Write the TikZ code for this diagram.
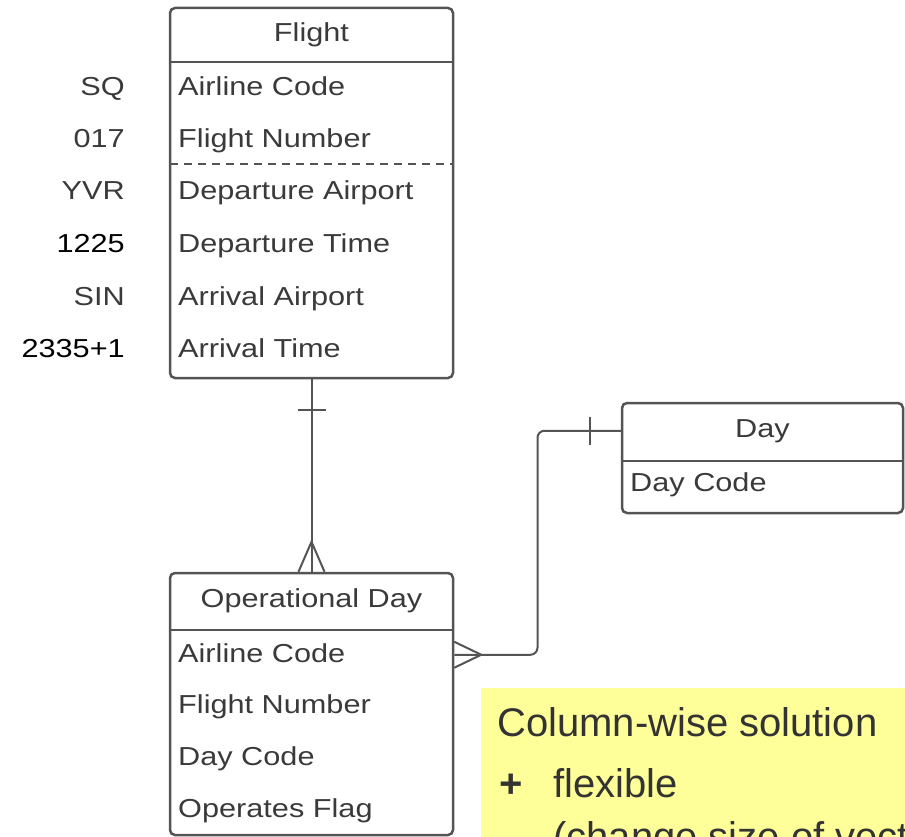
\documentclass[tikz,border=0pt]{standalone}
\usepackage{fontspec}
\setmainfont{Liberation Sans}
\newfontfamily\erfont[FakeStretch=1.18]{Liberation Sans}
\usetikzlibrary{calc}

\definecolor{boxgray}{HTML}{545454}
\definecolor{textgray}{HTML}{3A3A3A}
\definecolor{notegray}{HTML}{333333}
\definecolor{noteyellow}{HTML}{FFFF99}

\tikzset{
  entity/.style={draw=boxgray, line width=2.5pt, rounded corners=5pt, inner sep=0pt},
  sepline/.style={draw=boxgray, line width=2.5pt},
  keyline/.style={draw=boxgray, line width=1.3pt, dash pattern=on 8pt off 6pt},
  enttitle/.style={font=\erfont\fontsize{26}{30}\selectfont, text=textgray, inner sep=0pt, anchor=base},
  attr/.style={font=\erfont\fontsize{26}{30}\selectfont, text=textgray, inner sep=0pt, anchor=base west},
  sample/.style={font=\erfont\fontsize{26}{30}\selectfont, text=textgray, inner sep=0pt, anchor=base east},
  rel/.style={draw=boxgray, line width=2pt},
  notetext/.style={font=\fontsize{40}{48}\selectfont, text=notegray, inner sep=0pt, anchor=base west},
}

\begin{document}
\begin{tikzpicture}[x=1pt, y=-1pt]
  \clip (0,0) rectangle (905,837);

  % note in the corner
  \fill[noteyellow] (481,688) rectangle (910,840);
  \node[notetext] (notehead) at (497,736) {Column-wise solution};
  \node[notetext, font=\bfseries\fontsize{40}{48}\selectfont] (noteplus) at (499,797) {+};
  \node[notetext] (noteflex) at (553,797) {flexible};
  \node[notetext] (notechange) at (553,850) {(change size of vectors)};

  % Flight
  \node[entity, minimum width=283pt, minimum height=370pt] (flight) at (311.5,193) {};
  \node[enttitle] (flighttitle) at (311.5,41.5) {Flight};
  \draw[sepline] (170,62) -- (453,62);
  \draw[keyline] (170,164) -- (453,164);
  \foreach \yb/\val/\name [count=\i] in {95.5/SQ/Airline Code,
      147.5/017/Flight Number, 199.5/YVR/Departure Airport,
      252.5/\textcolor{black}{1225}/Departure Time, 305.5/SIN/Arrival Airport,
      357.5/\textcolor{black}{2335+1}/Arrival Time} {
    \node[attr] (fattr\i) at (178,\yb) {\name};
    \node[sample] (fval\i) at (125,\yb) {\val};
  }

  % Day
  \node[entity, minimum width=281pt, minimum height=110pt] (day) at (762.5,458) {};
  \node[enttitle] (daytitle) at (762.5,437.5) {Day};
  \draw[sepline] (622,461) -- (903,461);
  \node[attr] (dayattr1) at (630,491.5) {Day Code};

  % Operational Day
  \node[entity, minimum width=283pt, minimum height=262pt] (opday) at (311.5,704) {};
  \node[enttitle] (optitle) at (311.5,607.5) {Operational Day};
  \draw[sepline] (170,630) -- (453,630);
  \foreach \yb/\name [count=\i] in {662.5/Airline Code, 713.5/Flight Number,
      765.5/Day Code, 817.5/Operates Flag} {
    \node[attr] (opattr\i) at (178,\yb) {\name};
  }

  % Flight -- Operational Day
  \draw[rel] (flight.south) -- (opday.north);
  \draw[rel] ($(flight.south)+(-14,31)$) -- ++(28,0);
  \draw[rel] ($(opday.north)+(-13,0)$) -- ($(opday.north)+(0,-30)$) -- ($(opday.north)+(13,0)$);

  % Day -- Operational Day
  \coordinate (dayend) at ($(day.north west)+(0,29)$);
  \coordinate (opend) at ($(opday.north east)+(0,83)$);
  \coordinate (dogleg) at ($(dayend)!.5!(opend)$);
  \draw[rel, rounded corners=7pt] (dayend) -| (dogleg) |- (opend);
  \draw[rel] ($(dayend)+(-31,-14)$) -- ++(0,28);
  \draw[rel] ($(opend)+(0,-13)$) -- ($(opend)+(27,0)$) -- ($(opend)+(0,13)$);
\end{tikzpicture}
\end{document}
